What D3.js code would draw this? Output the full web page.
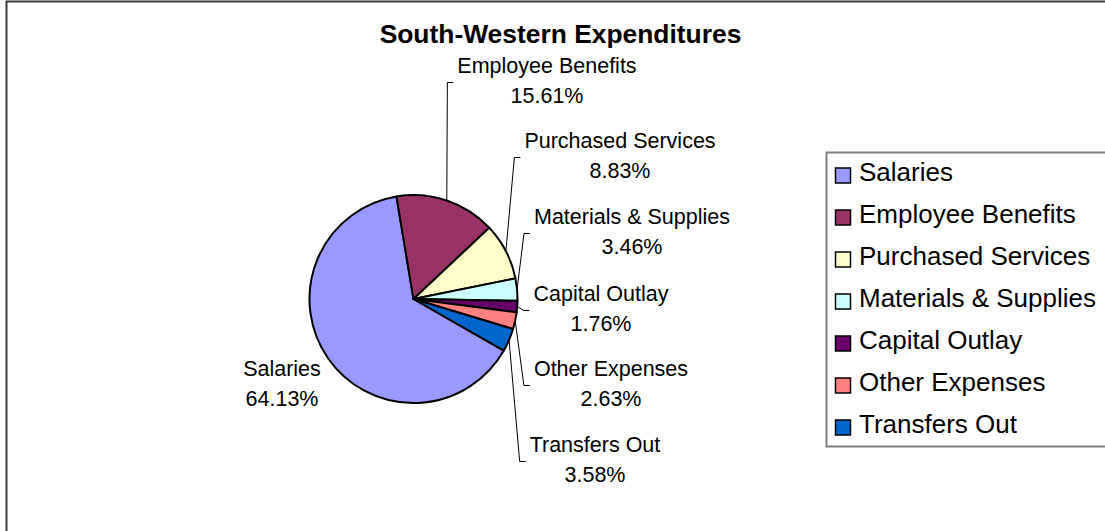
<!DOCTYPE html>
<html>
<head>
<meta charset="utf-8">
<script src="https://cdn.jsdelivr.net/npm/d3@7/dist/d3.min.js"></script>
<style>
  html, body { margin: 0; padding: 0; background: #fff; }
  svg { display: block; font-family: "Liberation Sans", Arial, sans-serif; }
</style>
</head>
<body>
<svg id="chart" width="1105" height="531"></svg>
<script>
// Expenditure categories and their shares (percent)
const categories = ["Salaries", "Employee Benefits", "Purchased Services",
  "Materials & Supplies", "Capital Outlay", "Other Expenses", "Transfers Out"];
const shares = [64.13, 15.61, 8.83, 3.46, 1.76, 2.63, 3.58];
const colors = ["#9999FF", "#993366", "#FFFFCC", "#CCFFFF", "#660066", "#FF8080", "#0066CC"];

// Data label placement: centre x and first baseline y; leader = draw a leader line
const labelLayout = [
  { cx: 282, y: 376, leader: false },
  { cx: 547, y: 73,  leader: true },
  { cx: 620, y: 148, leader: true },
  { cx: 632, y: 224, leader: true },
  { cx: 601, y: 301, leader: true },
  { cx: 611, y: 376, leader: true },
  { cx: 595, y: 452, leader: true }
];

const svg = d3.select("#chart");
const W = 1105, H = 531;

// Chart area border
svg.append("rect")
  .attr("x", 6.5).attr("y", 1.5)
  .attr("width", W + 50).attr("height", H + 50)
  .attr("fill", "#fff")
  .attr("stroke", "#3a3a3a").attr("stroke-width", 2);

// Title
svg.append("text")
  .attr("x", 560.5).attr("y", 43)
  .attr("text-anchor", "middle")
  .attr("font-weight", "bold")
  .attr("font-size", 26.4)
  .attr("fill", "#000")
  .text("South-Western Expenditures");

// Pie
const cx = 413.5, cy = 299, r = 104;
const a0 = 119.7 * Math.PI / 180;
const pie = d3.pie().sort(null).value(d => d.value)
  .startAngle(a0).endAngle(a0 + 2 * Math.PI);
const data = categories.map((c, i) => ({ name: c, value: shares[i], color: colors[i], layout: labelLayout[i] }));
const arcs = pie(data);
const arc = d3.arc().innerRadius(0).outerRadius(r);

const g = svg.append("g").attr("transform", `translate(${cx},${cy})`);
g.selectAll("path.slice")
  .data(arcs)
  .join("path")
  .attr("class", "slice")
  .attr("d", arc)
  .attr("fill", d => d.data.color)
  .attr("stroke", "#000")
  .attr("stroke-width", 2)
  .attr("stroke-linejoin", "round");

// Data labels with leader lines
const fmt = v => v.toFixed(2) + "%";
arcs.forEach(d => {
  const L = d.data.layout;
  const t = svg.append("text")
    .attr("text-anchor", "middle")
    .attr("font-size", 21.5)
    .attr("fill", "#000");
  t.append("tspan").attr("x", L.cx).attr("y", L.y).text(d.data.name);
  t.append("tspan").attr("x", L.cx).attr("y", L.y + 30).text(fmt(d.data.value));
  if (L.leader) {
    const tw = Math.max(...t.selectAll("tspan").nodes().map(n => n.getComputedTextLength()));
    const boxLeft = L.cx - tw / 2 - 4;
    const ly = L.y + 9.5;
    const mid = (d.startAngle + d.endAngle) / 2;
    const px = cx + r * Math.sin(mid), py = cy - r * Math.cos(mid);
    svg.append("path")
      .attr("d", d3.line()([[px, py], [boxLeft - 6, ly], [boxLeft, ly]]))
      .attr("fill", "none")
      .attr("stroke", "#000")
      .attr("stroke-width", 1);
  }
});

// Legend
const lg = svg.append("g");
lg.append("rect")
  .attr("x", 826.5).attr("y", 152.5)
  .attr("width", 400).attr("height", 294)
  .attr("fill", "#fff")
  .attr("stroke", "#808080").attr("stroke-width", 2);
const rows = lg.selectAll("g.item")
  .data(data)
  .join("g")
  .attr("class", "item")
  .attr("transform", (d, i) => `translate(0,${i * 42})`);
rows.append("rect")
  .attr("x", 835.5).attr("y", 168)
  .attr("width", 15).attr("height", 15)
  .attr("fill", d => d.color)
  .attr("stroke", "#000").attr("stroke-width", 1.5);
rows.append("text")
  .attr("x", 859).attr("y", 181)
  .attr("font-size", 26)
  .attr("fill", "#000")
  .text(d => d.name);
</script>
</body>
</html>
